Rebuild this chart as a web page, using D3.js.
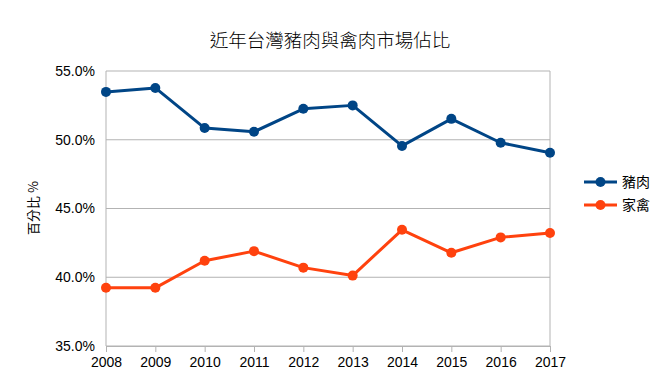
<!DOCTYPE html>
<html>
<head>
<meta charset="utf-8">
<script src="https://cdn.jsdelivr.net/npm/d3@7"></script>
<style>
  body { margin: 0; background: #fff; }
  text { font-family: "Liberation Sans", Arial, "Noto Sans CJK TC", sans-serif; }
</style>
</head>
<body>
<svg id="chart" width="668" height="376"></svg>
<script>
const years = [2008, 2009, 2010, 2011, 2012, 2013, 2014, 2015, 2016, 2017];
const pork = [53.48, 53.77, 50.85, 50.58, 52.25, 52.5, 49.55, 51.52, 49.78, 49.06];
const poultry = [39.23, 39.23, 41.2, 41.9, 40.7, 40.12, 43.45, 41.78, 42.9, 43.22];
const yTicks = [35, 40, 45, 50, 55];
const seriesNames = ["豬肉", "家禽"];
const colors = ["#004586", "#ff420e"];

const svg = d3.select("#chart");
const margin = { top: 71, right: 118, bottom: 30, left: 106 };
const width = 668 - margin.left - margin.right;
const height = 376 - margin.top - margin.bottom;

const x = d3.scalePoint().domain(years).range([0, width]);
const y = d3.scaleLinear().domain([35, 55]).range([height, 0]);

const g = svg.append("g").attr("transform", `translate(${margin.left},${margin.top})`);

// grid lines
g.selectAll(".grid")
  .data(yTicks)
  .enter()
  .append("line")
  .attr("x1", 0).attr("x2", width)
  .attr("y1", d => y(d)).attr("y2", d => y(d))
  .attr("stroke", "#b3b3b3").attr("stroke-width", 1);

// left and right frame
[0, width].forEach(px => {
  g.append("line")
    .attr("x1", px).attr("x2", px)
    .attr("y1", 0).attr("y2", height)
    .attr("stroke", "#b3b3b3");
});

// y axis
const yAxis = g.append("g")
  .call(d3.axisLeft(y).tickValues(yTicks).tickSize(0).tickPadding(11).tickFormat(d => d.toFixed(1) + "%"));
yAxis.select(".domain").remove();
yAxis.selectAll("text").attr("font-size", 14).attr("fill", "#000");

// x axis
const xAxis = g.append("g")
  .attr("transform", `translate(0,${height})`)
  .call(d3.axisBottom(x).tickSize(6).tickPadding(5));
xAxis.select(".domain").attr("stroke", "#b3b3b3");
xAxis.selectAll(".tick line").attr("stroke", "#b3b3b3");
xAxis.selectAll("text").attr("font-size", 14).attr("fill", "#000");

// lines
const line = d3.line().x((d, i) => x(years[i])).y(d => y(d));
[pork, poultry].forEach((vals, s) => {
  g.append("path")
    .datum(vals)
    .attr("d", line)
    .attr("fill", "none")
    .attr("stroke", colors[s])
    .attr("stroke-width", 3)
    .attr("stroke-linejoin", "round");
  g.selectAll(".pt" + s)
    .data(vals)
    .enter()
    .append("circle")
    .attr("cx", (d, i) => x(years[i]))
    .attr("cy", d => y(d))
    .attr("r", 5)
    .attr("fill", colors[s]);
});

// title
svg.append("text")
  .attr("x", 330).attr("y", 47)
  .attr("text-anchor", "middle")
  .attr("font-size", 18.5)
  .attr("font-weight", 300)
  .style("font-family", "'Noto Sans CJK TC', sans-serif")
  .text("近年台灣豬肉與禽肉市場佔比");

// y axis title
svg.append("text")
  .attr("transform", "translate(38,208) rotate(-90)")
  .attr("text-anchor", "middle")
  .attr("font-size", 13)
  .style("font-family", "'Noto Sans CJK TC', sans-serif")
  .text("百分比 %");

// legend
const legend = svg.append("g").attr("transform", "translate(584,182)");
seriesNames.forEach((name, i) => {
  const row = legend.append("g").attr("transform", `translate(0,${i * 23})`);
  row.append("line")
    .attr("x1", 0).attr("x2", 33)
    .attr("stroke", colors[i]).attr("stroke-width", 3);
  row.append("circle").attr("cx", 16.5).attr("cy", 0).attr("r", 5).attr("fill", colors[i]);
  row.append("text")
    .attr("x", 38).attr("y", 5)
    .attr("font-size", 14)
    .style("font-family", "'Noto Sans CJK TC', sans-serif")
    .text(name);
});
</script>
</body>
</html>
